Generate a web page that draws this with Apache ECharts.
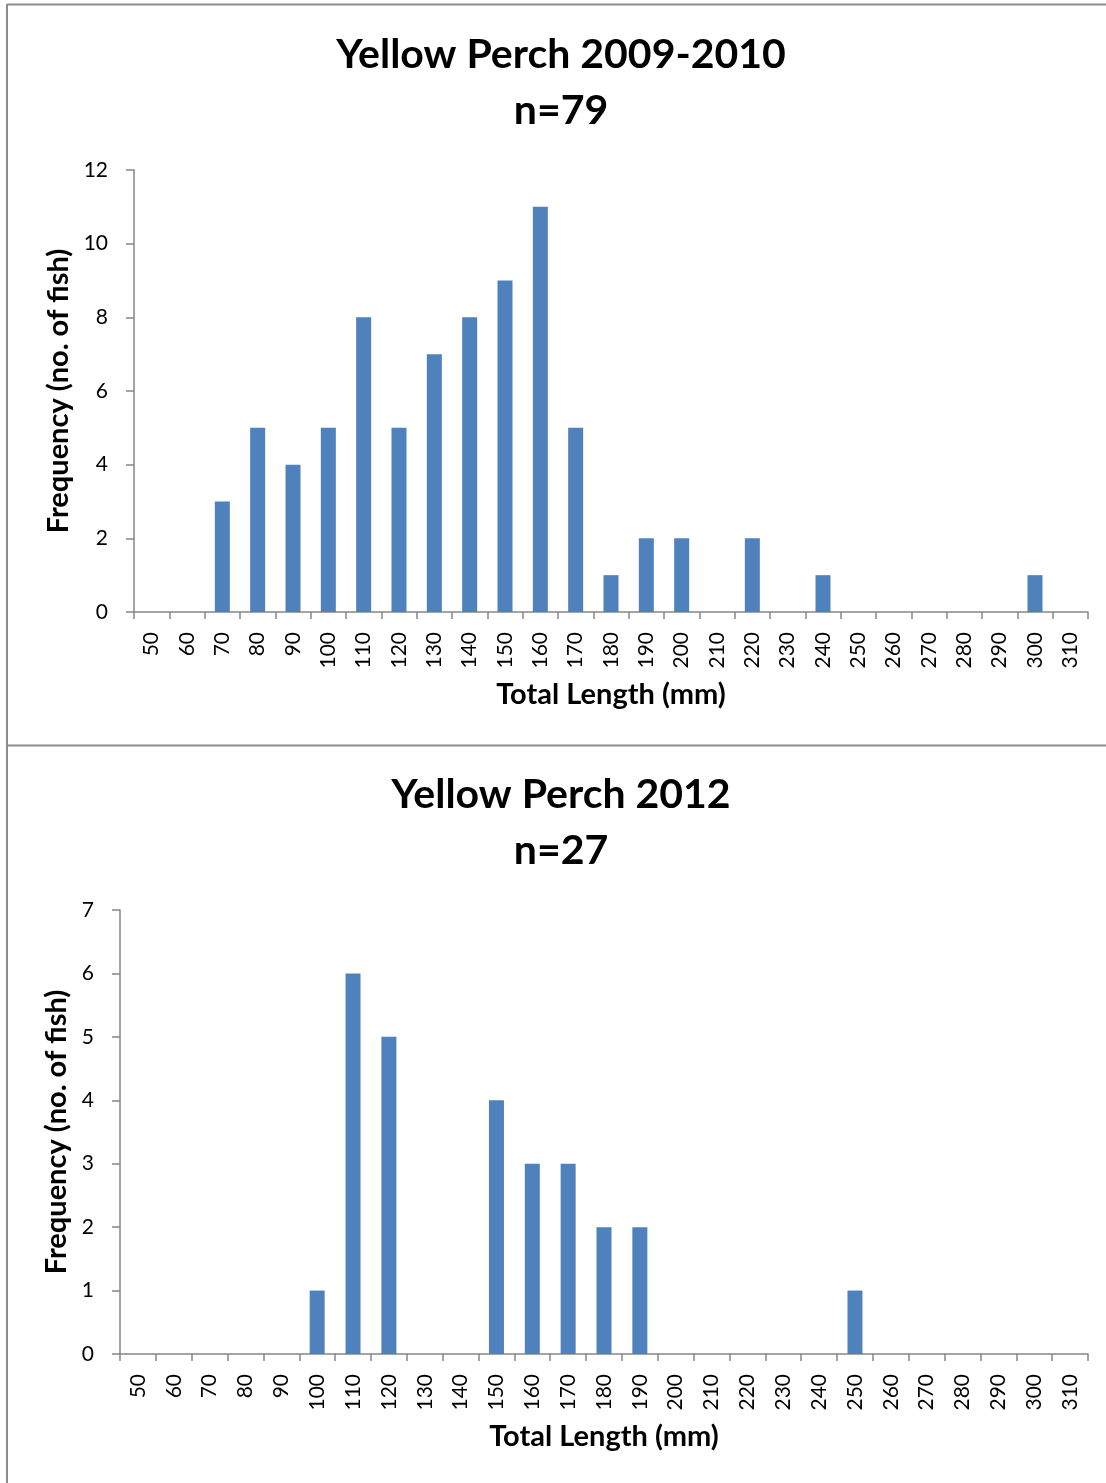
<!DOCTYPE html>
<html>
<head>
<meta charset="utf-8">
<script src="https://cdn.jsdelivr.net/npm/echarts@6/dist/echarts.min.js"></script>
<style>
  html, body { margin: 0; padding: 0; background: #fff; }
  #chart { width: 1106px; height: 1483px; }
</style>
</head>
<body>
<div id="chart"></div>
<script>
// Length classes (mm), shared by both histograms
const lengthClasses = ['50','60','70','80','90','100','110','120','130','140','150','160','170','180','190','200','210','220','230','240','250','260','270','280','290','300','310'];

// Number of fish per length class
const counts2009 = [0,0,3,5,4,5,8,5,7,8,9,11,5,1,2,2,0,2,0,1,0,0,0,0,0,1,0];
const counts2012 = [0,0,0,0,0,1,6,5,0,0,4,3,3,2,2,0,0,0,0,0,1,0,0,0,0,0,0];

const titles = ['Yellow Perch 2009-2010\nn=79', 'Yellow Perch 2012\nn=27'];
const yTitle = 'Frequency (no. of fish)';
const xTitle = 'Total Length (mm)';

const FONT = 'Lato';
const BAR = '#4f81bd';
const AXIS = '#868686';

const chart = echarts.init(document.getElementById('chart'), null, { renderer: 'canvas' });

function xAxisFor(gridIndex) {
  return {
    type: 'category',
    gridIndex: gridIndex,
    data: lengthClasses,
    axisLine: { lineStyle: { color: AXIS, width: 1.5 } },
    axisTick: { show: true, length: 7, lineStyle: { color: AXIS, width: 1.5 } },
    axisLabel: { rotate: 90, margin: 20, color: '#000', fontSize: 21, fontFamily: FONT, interval: 0 },
    name: xTitle,
    nameLocation: 'middle',
    nameGap: 68,
    nameTextStyle: { color: '#000', fontSize: 29, fontWeight: 'bold', fontFamily: FONT }
  };
}

function yAxisFor(gridIndex, max, interval, gap) {
  return {
    type: 'value',
    gridIndex: gridIndex,
    min: 0,
    max: max,
    interval: interval,
    splitLine: { show: false },
    axisLine: { show: true, lineStyle: { color: AXIS, width: 1.5 } },
    axisTick: { show: true, length: 8, lineStyle: { color: AXIS, width: 1.5 } },
    axisLabel: { margin: 26, color: '#000', fontSize: 21, fontFamily: FONT },
    name: yTitle,
    nameLocation: 'middle',
    nameGap: gap,
    nameTextStyle: { color: '#000', fontSize: 29, fontWeight: 'bold', fontFamily: FONT }
  };
}

chart.setOption({
  animation: false,
  backgroundColor: '#fff',
  title: [
    { text: titles[0], left: 556, top: 22, textAlign: 'center',
      textStyle: { fontSize: 41, fontWeight: 'bold', fontFamily: FONT, color: '#000', lineHeight: 56 } },
    { text: titles[1], left: 556, top: 762, textAlign: 'center',
      textStyle: { fontSize: 41, fontWeight: 'bold', fontFamily: FONT, color: '#000', lineHeight: 56 } }
  ],
  grid: [
    { left: 134, right: 18, top: 170, height: 442 },
    { left: 120, right: 18, top: 910, height: 444 }
  ],
  xAxis: [xAxisFor(0), xAxisFor(1)],
  yAxis: [yAxisFor(0, 12, 2, 61), yAxisFor(1, 7, 1, 47)],
  series: [
    { type: 'bar', xAxisIndex: 0, yAxisIndex: 0, data: counts2009, barWidth: 15,
      itemStyle: { color: BAR } },
    { type: 'bar', xAxisIndex: 1, yAxisIndex: 1, data: counts2012, barWidth: 15,
      itemStyle: { color: BAR } }
  ],
  graphic: [
    // outer frame and divider between the two panels
    { type: 'line', shape: { x1: 7, y1: 4, x2: 7, y2: 1483 }, style: { stroke: '#8c8c8c', lineWidth: 2 } },
    { type: 'line', shape: { x1: 7, y1: 4.5, x2: 1106, y2: 4.5 }, style: { stroke: '#8c8c8c', lineWidth: 2 } },
    { type: 'line', shape: { x1: 7, y1: 745.5, x2: 1106, y2: 745.5 }, style: { stroke: '#8c8c8c', lineWidth: 2 } }
  ]
});
</script>
</body>
</html>
